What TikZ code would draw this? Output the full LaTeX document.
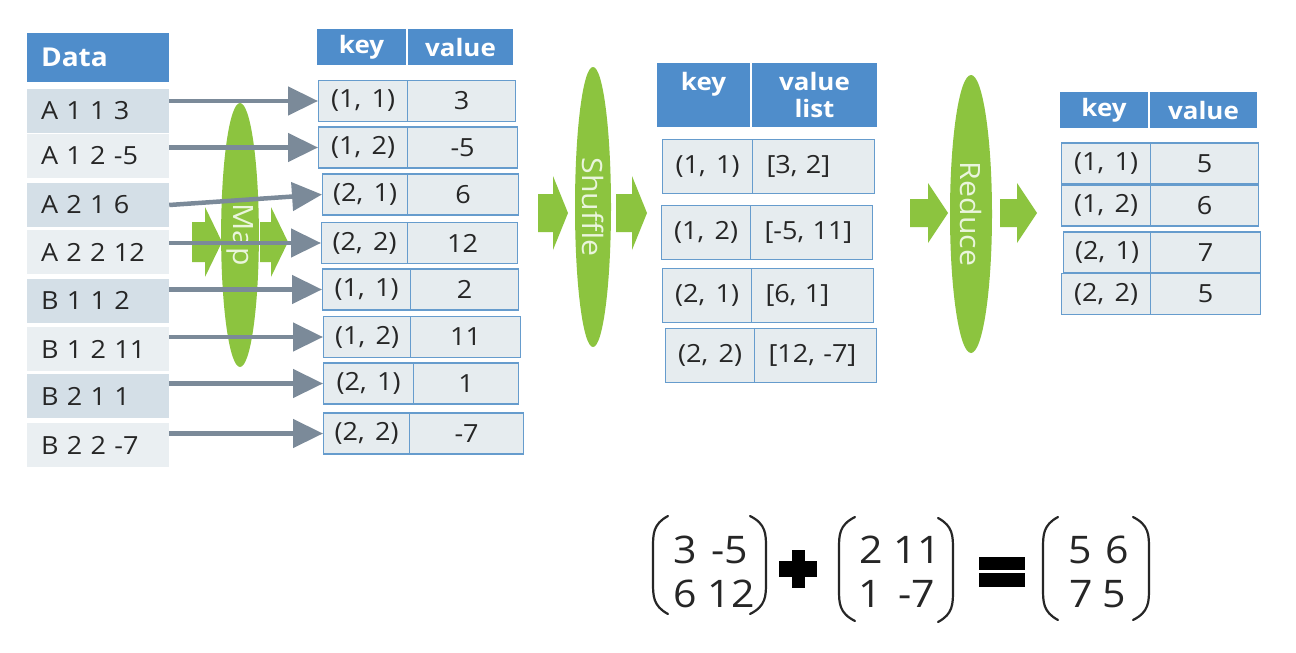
\documentclass[tikz,border=0pt]{standalone}
\usepackage{fontspec}
\setmainfont{Open Sans}[FakeStretch=1.08, WordSpace=1.5]
\usetikzlibrary{arrows.meta,shapes.geometric}
\definecolor{headblue}{HTML}{4F8DCB}
\definecolor{cellfill}{HTML}{E6ECEF}
\definecolor{cellline}{HTML}{669CCD}
\definecolor{rowdark}{HTML}{D4DFE7}
\definecolor{rowlight}{HTML}{EAEFF2}
\definecolor{feedgray}{HTML}{7B8A99}
\definecolor{stagegreen}{HTML}{8CC43F}
\definecolor{stagetext}{HTML}{EAF5DC}
\definecolor{ink}{HTML}{262626}
\newcommand\cellfont{\fontsize{25}{30}\selectfont}
\newcommand\headfont{\bfseries\fontsize{24}{27}\selectfont}
\newcommand\bigfont{\fontsize{38}{44}\selectfont}
\tikzset{
  hdr/.style={fill=headblue, text=white, font=\headfont, inner sep=0pt, align=center},
  cell/.style={draw=cellline, fill=cellfill, line width=1.2pt, inner sep=0pt,
    text=ink, font=\cellfont, anchor=west},
  datarow/.style={inner xsep=14pt, inner ysep=0pt, minimum height=44pt,
    text width=114pt, align=left, font=\cellfont, text=ink},
  feed/.style={draw=feedgray, line width=4.5pt, -{Triangle[length=30pt, width=28pt]}},
  stage/.style={ellipse, fill=stagegreen, text=stagetext, inner sep=0pt,
    rotate=-90, font=\fontsize{28}{30}\selectfont},
  entry/.style={inner sep=0pt, text=ink, font=\bigfont},
  paren/.style={draw=ink, line width=2.2pt, line cap=round}
}
\begin{document}
\begin{tikzpicture}[x=1pt, y=-1pt]
  \useasboundingbox[fill=white] (0,0) rectangle (1296,653);
  % input data
  \node[hdr, minimum height=49pt, text width=114pt, align=left, inner xsep=14pt,
    font=\bfseries\fontsize{26}{30}\selectfont] (datahead) at (98,57.5) {Data};
  \foreach \i/\y/\c/\t in {
    1/110.5/rowdark/A 1 1 3,
    2/156/rowlight/A 1 2 -5,
    3/205/rowdark/A 2 1 6,
    4/252/rowlight/A 2 2 12,
    5/300.5/rowdark/B 1 1 2,
    6/349/rowlight/B 1 2 11,
    7/396/rowdark/B 2 1 1,
    8/445/rowlight/B 2 2 -7} {
    \node[datarow, fill=\c] (d\i) at (98,\y) {\t};
  }
  % green stage arrows
  \foreach \x/\y/\l/\s/\h/\k in {
    192/242/30/20/35/17, 260/242/28/20/35/17,
    538/213/30/19/37/15, 616/213/31/19/37/15,
    910/213/38/14/30/20, 1000/213/37/14/30/20} {
    \fill[stagegreen] (\x,\y-\s) -- (\x+\l-\k,\y-\s) -- (\x+\l-\k,\y-\h)
      -- (\x+\l,\y) -- (\x+\l-\k,\y+\h) -- (\x+\l-\k,\y+\s) -- (\x,\y+\s) -- cycle;
  }
  \node[stage, minimum width=264pt, minimum height=34pt] (map) at (240,235) {Map};
  \node[stage, minimum width=280pt, minimum height=36pt] (shuffle) at (593,207) {Shuffle};
  \node[stage, minimum width=278pt, minimum height=42pt] (reduce) at (971,214) {Reduce};
  % map output
  \node[hdr, minimum width=89pt, minimum height=36pt] (mapkey) at (361.5,47) {key};
  \node[hdr, minimum width=105pt, minimum height=36pt] (mapval) at (460.5,47) {value};
  \foreach \i/\l/\s/\r/\y/\k/\v in {
    1/318/407/515/101/{(1, 1)}/3,
    2/318/407/517/147.5/{(1, 2)}/-5,
    3/322/407/518/194.5/{(2, 1)}/6,
    4/321/407/517/243/{(2, 2)}/12,
    5/322/410/518/289.5/{(1, 1)}/2,
    6/323/410/520/337/{(1, 2)}/11,
    7/323/413/518/383.5/{(2, 1)}/1,
    8/323/409/523/433.5/{(2, 2)}/-7} {
    \node[cell, minimum width={(\s-\l)*1pt}, minimum height=41pt] (mk\i) at (\l,\y) {\k};
    \node[cell, minimum width={(\r-\s)*1pt}, minimum height=41pt] (mv\i) at (\s,\y) {\v};
  }
  \foreach \i in {1,2,4,5,6,7,8} {
    \draw[feed] (d\i.east |- mk\i.west) -- (mk\i.west);
  }
  \draw[feed] (d3.east) -- (mk3.west);
  % shuffle output
  \node[hdr, minimum width=93pt, minimum height=64pt] (shufkey) at (703.5,95) {key\\\mbox{}};
  \node[hdr, minimum width=125pt, minimum height=64pt] (shufval) at (814.5,95) {value\\list};
  \foreach \i/\l/\s/\y/\k/\v in {
    1/662/752/166.5/{(1, 1)}/{[3, 2]},
    2/661/750/232.5/{(1, 2)}/{[-5, 11]},
    3/662/751/295.5/{(2, 1)}/{[6, 1]},
    4/665/754/355.5/{(2, 2)}/{[12, -7]}} {
    \node[cell, minimum width={(\s-\l)*1pt}, minimum height=54pt] (sk\i) at (\l,\y) {\k};
    \node[cell, minimum height=54pt, text width=94pt, align=left, inner xsep=14pt] (sv\i) at (\s,\y) {\v};
  }
  % reduce output
  \node[hdr, minimum width=88pt, minimum height=36pt] (redkey) at (1104,110) {key};
  \node[hdr, minimum width=107pt, minimum height=36pt] (redval) at (1203.5,110) {value};
  \foreach \i/\l/\s/\r/\y/\k/\v in {
    1/1061/1150/1258/163.5/{(1, 1)}/5,
    2/1061/1150/1258/205.5/{(1, 2)}/6,
    3/1063/1150/1260/252.5/{(2, 1)}/7,
    4/1061/1150/1260/294/{(2, 2)}/5} {
    \node[cell, minimum width={(\s-\l)*1pt}, minimum height=41pt] (rk\i) at (\l,\y) {\k};
    \node[cell, minimum width={(\r-\s)*1pt}, minimum height=41pt] (rv\i) at (\s,\y) {\v};
  }
  % matrix sum
  \foreach \n/\x/\y/\t in {
    a11/685/550/3, a12/730/550/-5, a21/685/594/6, a22/731/594/12,
    b11/871/550/2, b12/917/550/11, b21/870/594/1, b22/917/594/-7,
    c11/1080/550/5, c12/1117/550/6, c21/1081/594/7, c22/1114/594/5} {
    \node[entry] (\n) at (\x,\y) {\t};
  }
  \foreach \i/\o/\t/\b in {
    668/653/516/614, 750/766/516/614, 855/839/517/621,
    938/953/518/622, 1058/1043/517/620, 1133/1149/517/620} {
    \draw[paren] (\i,\t) .. controls (\o,\t+8) and (\o,\t+18) .. (\o,\t+32)
      -- (\o,\b-32) .. controls (\o,\b-18) and (\o,\b-8) .. (\i,\b);
  }
  \fill[black] (779,561) rectangle (817,577);
  \fill[black] (792,550) rectangle (805,588);
  \fill[black] (979,557) rectangle (1025,570);
  \fill[black] (979,573) rectangle (1025,587);
\end{tikzpicture}
\end{document}
